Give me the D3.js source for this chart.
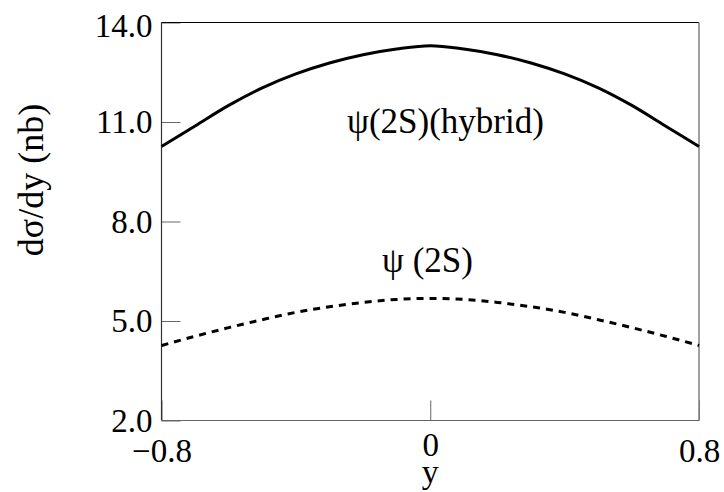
<!DOCTYPE html>
<html>
<head>
<meta charset="utf-8">
<script src="https://cdn.jsdelivr.net/npm/d3@7"></script>
<style>
  body { margin: 0; background: #fff; }
  text { font-family: "Liberation Serif", "Times New Roman", serif; fill: #000; }
</style>
</head>
<body>
<div id="chart"></div>
<script>
// rapidity points and the two curves (nb)
var rapidity = [-0.8, -0.7, -0.6, -0.5, -0.4, -0.3, -0.2, -0.1, 0, 0.1, 0.2, 0.3, 0.4, 0.5, 0.6, 0.7, 0.8];
var hybrid   = [10.26, 10.88, 11.50, 12.03, 12.45, 12.78, 13.03, 13.20, 13.30, 13.20, 13.03, 12.78, 12.45, 12.03, 11.50, 10.88, 10.26];
var plain2S  = [4.26, 4.54, 4.80, 5.04, 5.26, 5.43, 5.56, 5.65, 5.68, 5.65, 5.56, 5.43, 5.26, 5.04, 4.80, 4.54, 4.26];

var yTicks = [2, 5, 8, 11, 14];
var xTicks = [-0.8, 0, 0.8];
var xTickLabels = ['\u22120.8', '0', '0.8'];

var W = 724, H = 492;
var plotL = 161.5, plotR = 699, plotT = 22.5, plotB = 420.5;

var svg = d3.select('#chart').append('svg')
  .attr('width', W)
  .attr('height', H);

var x = d3.scaleLinear().domain([-0.8, 0.8]).range([plotL, plotR]);
var y = d3.scaleLinear().domain([2, 14]).range([plotB, plotT]);

/* axes, ticks drawn inwards */
var yAxis = svg.append('g')
  .attr('transform', 'translate(' + plotL + ',0)')
  .call(d3.axisLeft(y).tickValues(yTicks).tickSize(-19).tickPadding(9)
    .tickFormat(d3.format('.1f')));
yAxis.select('.domain').remove();
yAxis.selectAll('line').attr('stroke', '#666');
yAxis.selectAll('text').style('font-size', '33px').attr('fill', '#000');
// top label is nudged down a little in the original
yAxis.selectAll('.tick').filter(function(d) { return d === 14; })
  .select('text').attr('dy', '0.42em');

var xAxis = svg.append('g')
  .attr('transform', 'translate(0,' + plotB + ')')
  .call(d3.axisBottom(x).tickValues(xTicks).tickSize(-20).tickPadding(18)
    .tickFormat(function(d, i) { return xTickLabels[i]; }));
xAxis.select('.domain').remove();
xAxis.selectAll('line').attr('stroke', '#666');
xAxis.selectAll('text').style('font-size', '33px').attr('fill', '#000');
// the middle label sits a little higher in the original
xAxis.selectAll('.tick').filter(function(d) { return d === 0; })
  .select('text').attr('y', 12);

/* frame */
svg.append('line').attr('x1', plotL).attr('x2', plotR).attr('y1', plotT).attr('y2', plotT)
  .attr('stroke', '#000').attr('stroke-width', 1.2);
svg.append('line').attr('x1', plotL).attr('x2', plotL).attr('y1', plotT).attr('y2', plotB)
  .attr('stroke', '#333').attr('stroke-width', 1.2);
svg.append('line').attr('x1', plotR).attr('x2', plotR).attr('y1', plotT).attr('y2', plotB)
  .attr('stroke', '#808080').attr('stroke-width', 1.5);
svg.append('line').attr('x1', plotL).attr('x2', plotR).attr('y1', plotB).attr('y2', plotB)
  .attr('stroke', '#666').attr('stroke-width', 1.2);

/* curves */
var line = d3.line()
  .x(function(d) { return x(d[0]); })
  .y(function(d) { return y(d[1]); })
  .curve(d3.curveMonotoneX);

svg.append('path')
  .datum(d3.zip(rapidity, hybrid))
  .attr('d', line)
  .attr('fill', 'none')
  .attr('stroke', '#000')
  .attr('stroke-width', 3);

svg.append('path')
  .datum(d3.zip(rapidity, plain2S))
  .attr('d', line)
  .attr('fill', 'none')
  .attr('stroke', '#000')
  .attr('stroke-width', 3)
  .attr('stroke-dasharray', '7,6');

/* labels */
svg.append('text')
  .attr('x', 347).attr('y', 133)
  .style('font-size', '35px')
  .text('\u03C8(2S)(hybrid)');

svg.append('text')
  .attr('x', 382).attr('y', 272)
  .style('font-size', '35px')
  .text('\u03C8 (2S)');

svg.append('text')
  .attr('x', (plotL + plotR) / 2).attr('y', 483)
  .attr('text-anchor', 'middle')
  .style('font-size', '34px')
  .text('y');

svg.append('text')
  .attr('transform', 'translate(43,180) rotate(-90)')
  .attr('text-anchor', 'middle')
  .style('font-size', '36px')
  .text('d\u03C3/dy (nb)');
</script>
</body>
</html>
